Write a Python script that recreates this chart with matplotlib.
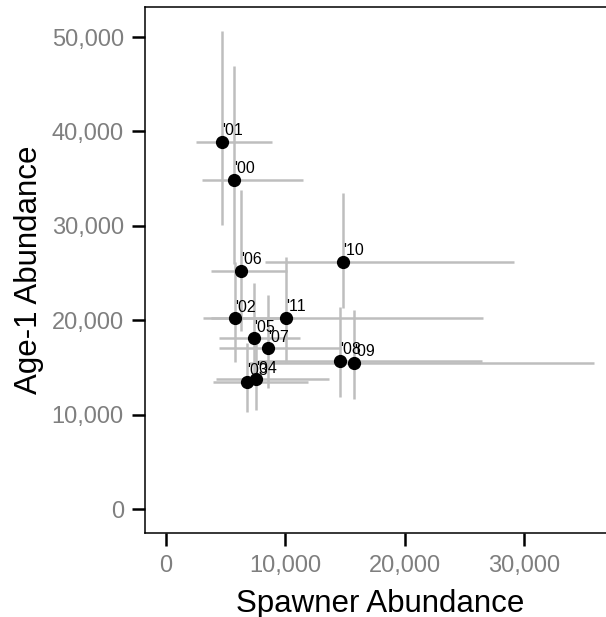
import matplotlib
matplotlib.use("Agg")
import matplotlib.pyplot as plt
import numpy as np

plt.rcParams['font.family'] = ['Liberation Sans', 'DejaVu Sans']

years = ["'00", "'01", "'02", "'03", "'04", "'05", "'06", "'07", "'08", "'09", "'10", "'11"]
spawner = [5673, 4718, 5782, 6816, 7542, 7349, 6258, 8520, 14582, 15755, 14833, 10056]
spawner_lo = [3017, 2514, 3126, 3900, 4160, 4441, 3771, 4441, 7710, 6920, 8296, 3810]
spawner_hi = [11456, 8858, 10700, 11900, 13685, 11220, 10115, 14665, 26456, 35880, 29163, 26540]
age1 = [34862, 38917, 20220, 13477, 13762, 18103, 25260, 17044, 15700, 15520, 26213, 20284]
age1_lo = [25920, 30117, 15626, 10330, 10510, 13700, 18850, 12800, 11920, 11645, 21310, 15626]
age1_hi = [46880, 50630, 26160, 17590, 18000, 23925, 33840, 22700, 21450, 21100, 33530, 26740]

x = np.array(spawner, float)
y = np.array(age1, float)
xerr = np.vstack([x - np.array(spawner_lo), np.array(spawner_hi) - x])
yerr = np.vstack([y - np.array(age1_lo), np.array(age1_hi) - y])

fig = plt.figure(figsize=(6.06, 6.17), dpi=100)
ax = fig.add_axes([145.3 / 606, 1 - 533 / 617, (615 - 145.3) / 606, (533 - 7) / 617])

ax.errorbar(x, y, xerr=xerr, yerr=yerr, fmt='none', ecolor='#bebebe',
            elinewidth=1.8, capsize=0, zorder=1)
ax.plot(x, y, 'o', color='black', markersize=8.5, zorder=2)
for xi, yi, lab in zip(x, y, years):
    ax.annotate(lab, (xi, yi), xytext=(0, 4.8), textcoords='offset points',
                ha='left', va='baseline', fontsize=11.5, color='black', zorder=3)

ax.set_xlim(-1735, 37627)
ax.set_ylim(-2509, 53176)
ax.set_xticks([0, 10000, 20000, 30000])
ax.set_yticks([0, 10000, 20000, 30000, 40000, 50000])
ax.set_xticklabels(['0', '10,000', '20,000', '30,000'])
ax.set_yticklabels(['0', '10,000', '20,000', '30,000', '40,000', '50,000'])
ax.tick_params(axis='both', length=9.5, width=1.8, color='black',
               labelsize=17, labelcolor='#7f7f7f', pad=6)
for s in ['left', 'bottom', 'top']:
    ax.spines[s].set_linewidth(1.1)
    ax.spines[s].set_color('black')
ax.spines['right'].set_visible(False)

ax.set_xlabel('Spawner Abundance', fontsize=22.5, va='baseline')
ax.xaxis.set_label_coords(0.5, -0.1496)
ax.set_ylabel('Age-1 Abundance', fontsize=22.5, va='baseline')
ax.yaxis.set_label_coords(-0.2306, 0.5)

fig.savefig('out.png', dpi=100)
